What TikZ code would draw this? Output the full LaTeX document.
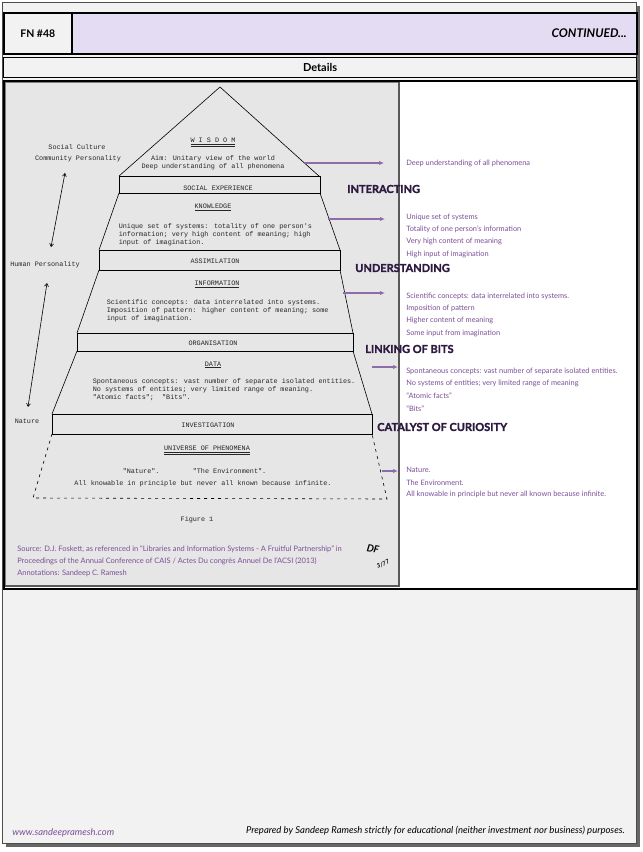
\documentclass[tikz,border=0pt]{standalone}
\usepackage{fontspec}
\setmainfont{Lato}
\newfontfamily\typew{Liberation Mono}
\newfontfamily\heavy{Lato}[BoldFeatures={FakeBold=1.6}]
\usetikzlibrary{arrows.meta}
\definecolor{lav}{HTML}{E4DCF2}
\definecolor{annot}{HTML}{7B4F98}
\definecolor{headl}{HTML}{2E1A40}
\definecolor{arrowc}{HTML}{8E6CA8}
\definecolor{scan}{HTML}{E6E6E6}
\definecolor{paper}{HTML}{F2F2F2}

\begin{document}
\begin{tikzpicture}[%
        x = 1pt, y = -1pt,
        line width = 0.6pt,
        tw/.style = {inner sep = 0.5pt, font = \typew\fontsize{6.8}{8}\selectfont, text = black!85},
        annot/.style = {anchor = west, inner sep = 0pt, text = annot, font = \fontsize{7.4}{9}\selectfont},
        headword/.style = {anchor = west, inner sep = 0pt, text = headl, font = \heavy\bfseries\fontsize{11}{12}\selectfont},
        annarrow/.style = {-{Latex[length=5pt,width=4.5pt]}, line width = 1.6pt, draw = arrowc},
        dblarrow/.style = {{Straight Barb[length=3pt,width=4pt]}-{Straight Barb[length=3pt,width=4pt]}, line width = 0.6pt},
        ]

\useasboundingbox (0,0) rectangle (643,852);

% page
\fill[black!60] (6,6) rectangle (640,847);
\fill[paper] (2,2) rectangle (636,843);
\draw[black!70, line width = 0.8pt] (2,2) rectangle (636,843);

% header
\node (FN) [draw, line width = 1.5pt, fill = paper, anchor = north west,
    minimum width = 68pt, minimum height = 41pt,
    font = \bfseries\fontsize{10.5}{12}\selectfont] at (3,12) {FN \#48};
\node (CONT) [draw, line width = 1.5pt, fill = lav, anchor = north west,
    minimum height = 41pt, text width = 545pt, inner xsep = 10pt, align = right,
    font = \bfseries\itshape\fontsize{12}{13}\selectfont] at (71,12) {CONTINUED...};
\node (DET) [draw, line width = 1.2pt, fill = paper, anchor = north west,
    minimum width = 633pt, minimum height = 20pt,
    font = \bfseries\fontsize{11}{12}\selectfont] at (3,57) {Details};

\node (BOX) [draw, line width = 1.5pt, fill = white, anchor = north west,
    minimum width = 633pt, minimum height = 508pt] at (3,80) {};
\node (SCAN) [draw = black!50, line width = 0.8pt, fill = scan, anchor = north west,
    minimum width = 393pt, minimum height = 503pt] at (5,82) {};
\draw[black!65, line width = 2pt] (SCAN.north east) -- (SCAN.south east) -- (SCAN.south west);

% pyramid
\draw (119,176) -- (220,87) -- (320,177);
\foreach \L/\R/\T/\B in {119/320/176/193, 99/340/250/270, 77/353/333/351, 52/372/414/434}{
    \draw (\L,\T) rectangle (\R,\B);
    }
\foreach \La/\Ra/\Ya/\Lb/\Rb/\Yb in {119/320/193/99/340/250, 99/340/270/77/353/333, 77/353/351/52/372/414}{
    \draw (\La,\Ya) -- (\Lb,\Yb) (\Ra,\Ya) -- (\Rb,\Yb);
    }
\draw[dashed, dash pattern = on 3pt off 4pt] (52,434) -- (33,498) -- (387,499) -- (372,434);

\node (WIS) [tw] at (213,142) {\underline{\underline{W I S D O M}}};
\node (WIS1) [tw] at (213,159) {Aim: Unitary view of the world};
\node (WIS2) [tw] at (213,167) {Deep understanding of all phenomena};
\node (SOC) [tw] at (218,188) {SOCIAL EXPERIENCE};
\node (KNO) [tw] at (213,207) {\underline{KNOWLEDGE}};
\node (KNO1) [tw, anchor = north west, align = left] at (118,222.5)
    {Unique set of systems: totality of one person's\\
     information; very high content of meaning; high\\
     input of imagination.};
\node (ASS) [tw] at (215,261) {ASSIMILATION};
\node (INF) [tw] at (217,284) {\underline{INFORMATION}};
\node (INF1) [tw, anchor = north west, align = left] at (106,298.5)
    {Scientific concepts: data interrelated into systems.\\
     Imposition of pattern: higher content of meaning; some\\
     input of imagination.};
\node (ORG) [tw] at (213,343) {ORGANISATION};
\node (DAT) [tw] at (213,365) {\underline{DATA}};
\node (DAT1) [tw, anchor = north west, align = left] at (92,377.5)
    {Spontaneous concepts: vast number of separate isolated entities.\\
     No systems of entities; very limited range of meaning.\\
     "Atomic facts";\ \ "Bits".};
\node (INV) [tw] at (208,425) {INVESTIGATION};
\node (UNI) [tw] at (207,450) {\underline{\underline{UNIVERSE OF PHENOMENA}}};
\node (UNI1) [tw, anchor = west] at (122,471) {"Nature".};
\node (UNI2) [tw, anchor = west] at (192,471) {"The Environment".};
\node (UNI3) [tw] at (203,484) {All knowable in principle but never all known because infinite.};
\node (FIG) [tw] at (197,520) {Figure 1};

% left side
\node (SC) [tw] at (77,147) {Social Culture};
\node (CP) [tw] at (78,159) {Community Personality};
\node (HP) [tw] at (45,265) {Human Personality};
\node (NAT) [tw] at (27,421) {Nature};
\draw[dblarrow] ([xshift = -13pt, yshift = -10pt]CP.south) -- ([xshift = 6pt, yshift = 14pt]HP.north);
\draw[dblarrow] ([xshift = 2pt, yshift = -14pt]HP.south) -- ([xshift = 1pt, yshift = 11pt]NAT.north);

% annotations
\node (A1) [annot] at (406,163) {Deep understanding of all phenomena};
\foreach \TXT [count = \i] in {Unique set of systems, Totality of one person's information,
        Very high content of meaning, High input of imagination}{
    \node (B\i) [annot] at (406,{217+12.4*(\i-1)}) {\TXT};
    }
\foreach \TXT [count = \i] in {Scientific concepts: data interrelated into systems.,
        Imposition of pattern, Higher content of meaning, Some input from imagination}{
    \node (C\i) [annot] at (406,{296+12.4*(\i-1)}) {\TXT};
    }
\foreach \TXT [count = \i] in {Spontaneous concepts: vast number of separate isolated entities.,
        No systems of entities; very limited range of meaning, ``Atomic facts'', ``Bits''}{
    \node (D\i) [annot] at (406,{371+12.4*(\i-1)}) {\TXT};
    }
\foreach \TXT [count = \i] in {Nature., The Environment.,
        All knowable in principle but never all known because infinite.}{
    \node (E\i) [annot] at (406,{470+12.4*(\i-1)}) {\TXT};
    }

\node (H1) [headword] at (347,189) {INTERACTING};
\node (H2) [headword] at (355,268) {UNDERSTANDING};
\node (H3) [headword] at (365,349) {LINKING OF BITS};
\node (H4) [headword] at (377,427) {CATALYST OF CURIOSITY};

\coordinate (a1) at (305,163);
\coordinate (a2) at (328,219);
\coordinate (a3) at (343,293);
\coordinate (a4) at (372,367);
\coordinate (a5) at (382,471);
\draw[annarrow, shorten >= 22pt] (a1) -- (a1 -| A1.west);
\draw[annarrow, shorten >= 21pt] (a2) -- (a2 -| B1.west);
\draw[annarrow, shorten >= 21pt] (a3) -- (a3 -| C1.west);
\draw[annarrow, shorten >= 8pt] (a4) -- (a4 -| D1.west);
\draw[annarrow, shorten >= 8pt] (a5) -- (a5 -| E1.west);

% source
\node (SRC) [anchor = north west, align = left, inner sep = 0pt, text = annot,
    font = \fontsize{7.5}{12}\selectfont] at (17,545)
    {Source: D.J. Foskett, as referenced in ``Libraries and Information Systems - A Fruitful Partnership'' in\\
     Proceedings of the Annual Conference of CAIS / Actes Du congr\`es Annuel De l'ACSI (2013)\\
     Annotations: Sandeep C. Ramesh};
\node (SIG) [rotate = -10, font = \bfseries\itshape\fontsize{10}{10}\selectfont] at (373,549) {DF};
\node (SIGD) [rotate = 25, font = \bfseries\itshape\fontsize{6}{6}\selectfont] at (383,564) {3/77};

% footer
\node (WEB) [anchor = west, inner sep = 0pt, text = annot, font = \itshape\fontsize{9.4}{10}\selectfont] at (12,833) {www.sandeepramesh.com};
\node (PREP) [anchor = east, inner sep = 0pt, font = \itshape\fontsize{9.5}{10}\selectfont] at (625,831)
    {Prepared by Sandeep Ramesh strictly for educational (neither investment nor business) purposes.};

\end{tikzpicture}
\end{document}
